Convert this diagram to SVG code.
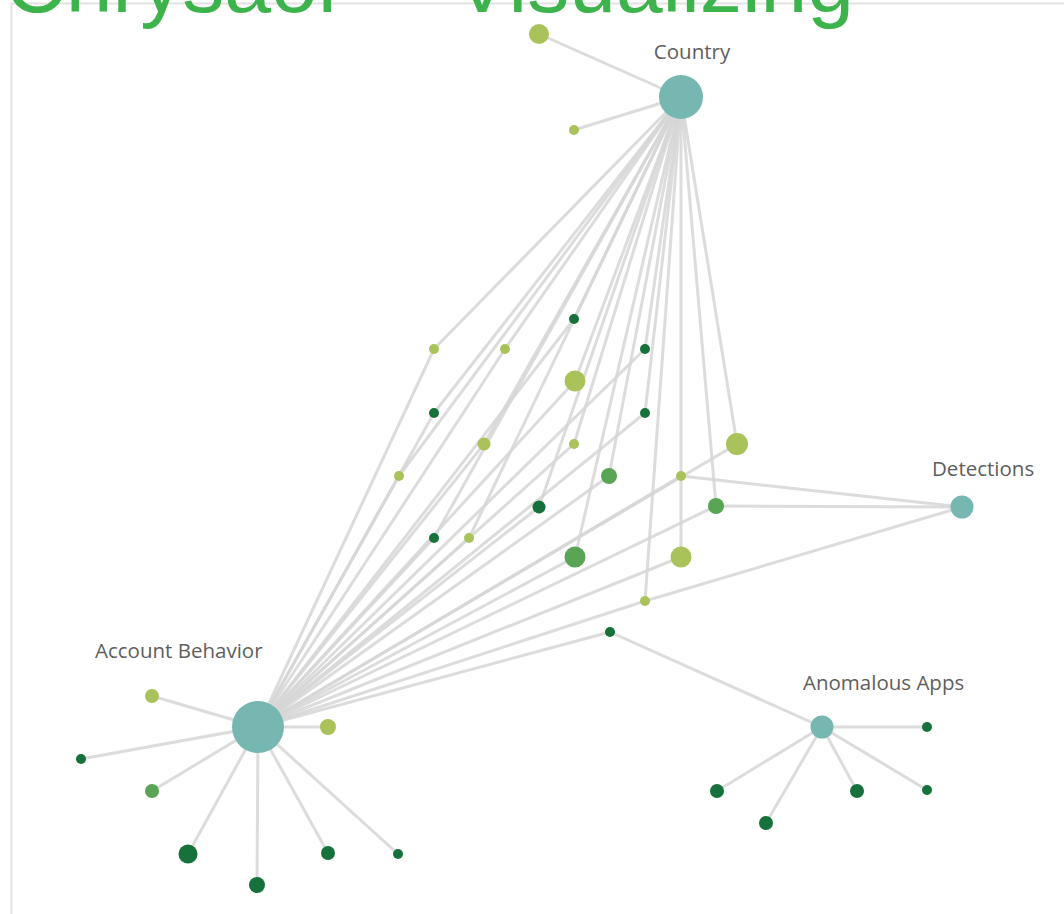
<svg xmlns="http://www.w3.org/2000/svg" width="1064" height="914" viewBox="0 0 1064 914">
  <style>
    .edge { stroke: #d6d6d6; stroke-width: 3; stroke-opacity: 0.85; fill: none; stroke-linecap: round; }
    .hub { fill: #76b7b2; }
    .lt { fill: #a9c25a; }
    .md { fill: #5aa455; }
    .dk { fill: #16713a; }
    .label { font-family: "Open Sans", "Noto Sans", sans-serif; font-size: 20.5px; fill: #5e5e5e; }
    .title { font-family: "Liberation Sans", Arial, sans-serif; font-size: 84px; fill: #3cb44b; }
  </style>

  <rect width="1064" height="914" fill="#ffffff"/>
  <!-- panel frame -->
  <path d="M11.5,914 V3.5 H1064" fill="none" stroke="#e2e2e2" stroke-width="2"/>

  <!-- connectors -->
  <g id="connectors">
    <!-- Country satellites -->
    <line class="edge" x1="681" y1="97" x2="539" y2="34"/>
    <line class="edge" x1="681" y1="97" x2="574" y2="130"/>
    <!-- Country to shared entities -->
    <line class="edge" x1="681" y1="97" x2="434" y2="349"/>
    <line class="edge" x1="681" y1="97" x2="505" y2="349"/>
    <line class="edge" x1="681" y1="97" x2="574" y2="319"/>
    <line class="edge" x1="681" y1="97" x2="645" y2="349"/>
    <line class="edge" x1="681" y1="97" x2="575" y2="381"/>
    <line class="edge" x1="681" y1="97" x2="434" y2="413"/>
    <line class="edge" x1="681" y1="97" x2="645" y2="413"/>
    <line class="edge" x1="681" y1="97" x2="484" y2="444"/>
    <line class="edge" x1="681" y1="97" x2="574" y2="444"/>
    <line class="edge" x1="681" y1="97" x2="737" y2="444"/>
    <line class="edge" x1="681" y1="97" x2="399" y2="476"/>
    <line class="edge" x1="681" y1="97" x2="609" y2="476"/>
    <line class="edge" x1="681" y1="97" x2="539" y2="507"/>
    <line class="edge" x1="681" y1="97" x2="716" y2="506"/>
    <line class="edge" x1="681" y1="97" x2="434" y2="538"/>
    <line class="edge" x1="681" y1="97" x2="469" y2="538"/>
    <line class="edge" x1="681" y1="97" x2="575" y2="557"/>
    <line class="edge" x1="681" y1="97" x2="681" y2="557"/>
    <line class="edge" x1="681" y1="97" x2="645" y2="601"/>
    <!-- Account Behavior to shared entities -->
    <line class="edge" x1="258" y1="727" x2="434" y2="349"/>
    <line class="edge" x1="258" y1="727" x2="505" y2="349"/>
    <line class="edge" x1="258" y1="727" x2="574" y2="319"/>
    <line class="edge" x1="258" y1="727" x2="645" y2="349"/>
    <line class="edge" x1="258" y1="727" x2="575" y2="381"/>
    <line class="edge" x1="258" y1="727" x2="434" y2="413"/>
    <line class="edge" x1="258" y1="727" x2="645" y2="413"/>
    <line class="edge" x1="258" y1="727" x2="484" y2="444"/>
    <line class="edge" x1="258" y1="727" x2="574" y2="444"/>
    <line class="edge" x1="258" y1="727" x2="737" y2="444"/>
    <line class="edge" x1="258" y1="727" x2="399" y2="476"/>
    <line class="edge" x1="258" y1="727" x2="609" y2="476"/>
    <line class="edge" x1="258" y1="727" x2="681" y2="476"/>
    <line class="edge" x1="258" y1="727" x2="539" y2="507"/>
    <line class="edge" x1="258" y1="727" x2="716" y2="506"/>
    <line class="edge" x1="258" y1="727" x2="434" y2="538"/>
    <line class="edge" x1="258" y1="727" x2="469" y2="538"/>
    <line class="edge" x1="258" y1="727" x2="575" y2="557"/>
    <line class="edge" x1="258" y1="727" x2="681" y2="557"/>
    <line class="edge" x1="258" y1="727" x2="645" y2="601"/>
    <line class="edge" x1="258" y1="727" x2="610" y2="632"/>
    <!-- Account Behavior satellites -->
    <line class="edge" x1="258" y1="727" x2="152" y2="696"/>
    <line class="edge" x1="258" y1="727" x2="328" y2="727"/>
    <line class="edge" x1="258" y1="727" x2="81" y2="759"/>
    <line class="edge" x1="258" y1="727" x2="152" y2="791"/>
    <line class="edge" x1="258" y1="727" x2="188" y2="854"/>
    <line class="edge" x1="258" y1="727" x2="257" y2="885"/>
    <line class="edge" x1="258" y1="727" x2="328" y2="853"/>
    <line class="edge" x1="258" y1="727" x2="398" y2="854"/>
    <!-- Detections -->
    <line class="edge" x1="962" y1="507" x2="681" y2="476"/>
    <line class="edge" x1="962" y1="507" x2="716" y2="506"/>
    <line class="edge" x1="962" y1="507" x2="645" y2="601"/>
    <!-- Anomalous Apps -->
    <line class="edge" x1="822" y1="727" x2="610" y2="632"/>
    <line class="edge" x1="822" y1="727" x2="927" y2="727"/>
    <line class="edge" x1="822" y1="727" x2="717" y2="791"/>
    <line class="edge" x1="822" y1="727" x2="766" y2="823"/>
    <line class="edge" x1="822" y1="727" x2="857" y2="791"/>
    <line class="edge" x1="822" y1="727" x2="927" y2="790"/>
  </g>

  <!-- hubs -->
  <g id="country">
    <circle class="hub" cx="681" cy="97" r="22"/>
    <text class="label" x="692" y="59" text-anchor="middle">Country</text>
  </g>
  <g id="account-behavior">
    <circle class="hub" cx="258" cy="727" r="26"/>
    <text class="label" x="95" y="658">Account Behavior</text>
  </g>
  <g id="detections">
    <circle class="hub" cx="962" cy="507" r="11.5"/>
    <text class="label" x="932" y="476">Detections</text>
  </g>
  <g id="anomalous-apps">
    <circle class="hub" cx="822" cy="727" r="11.5"/>
    <text class="label" x="803" y="690">Anomalous Apps</text>
  </g>

  <!-- Country satellites -->
  <g id="country-leaves">
    <circle class="lt" cx="539" cy="34" r="10"/>
    <circle class="lt" cx="574" cy="130" r="5"/>
  </g>

  <!-- shared entities -->
  <g id="shared-entities">
    <circle class="lt" cx="434" cy="349" r="5"/>
    <circle class="lt" cx="505" cy="349" r="5"/>
    <circle class="dk" cx="574" cy="319" r="5"/>
    <circle class="dk" cx="645" cy="349" r="5"/>
    <circle class="lt" cx="575" cy="381" r="10.5"/>
    <circle class="dk" cx="434" cy="413" r="5"/>
    <circle class="dk" cx="645" cy="413" r="5"/>
    <circle class="lt" cx="484" cy="444" r="6.5"/>
    <circle class="lt" cx="574" cy="444" r="5"/>
    <circle class="lt" cx="737" cy="444" r="11"/>
    <circle class="lt" cx="399" cy="476" r="5"/>
    <circle class="md" cx="609" cy="476" r="8"/>
    <circle class="lt" cx="681" cy="476" r="5"/>
    <circle class="dk" cx="539" cy="507" r="6.5"/>
    <circle class="md" cx="716" cy="506" r="8"/>
    <circle class="dk" cx="434" cy="538" r="5"/>
    <circle class="lt" cx="469" cy="538" r="5"/>
    <circle class="md" cx="575" cy="557" r="10.5"/>
    <circle class="lt" cx="681" cy="557" r="10.5"/>
    <circle class="lt" cx="645" cy="601" r="5"/>
    <circle class="dk" cx="610" cy="632" r="5"/>
  </g>

  <!-- Account Behavior satellites -->
  <g id="account-behavior-leaves">
    <circle class="lt" cx="152" cy="696" r="7"/>
    <circle class="lt" cx="328" cy="727" r="8"/>
    <circle class="dk" cx="81" cy="759" r="5"/>
    <circle class="md" cx="152" cy="791" r="7"/>
    <circle class="dk" cx="188" cy="854" r="9.5"/>
    <circle class="dk" cx="257" cy="885" r="8"/>
    <circle class="dk" cx="328" cy="853" r="7"/>
    <circle class="dk" cx="398" cy="854" r="5"/>
  </g>

  <!-- Anomalous Apps satellites -->
  <g id="anomalous-apps-leaves">
    <circle class="dk" cx="927" cy="727" r="5"/>
    <circle class="dk" cx="717" cy="791" r="7"/>
    <circle class="dk" cx="766" cy="823" r="7"/>
    <circle class="dk" cx="857" cy="791" r="7"/>
    <circle class="dk" cx="927" cy="790" r="5"/>
  </g>

  <!-- heading, clipped by the top edge -->
  <text class="title" y="12"><tspan x="5">Chrysaor</tspan><tspan x="454">Visualizing</tspan></text>
</svg>
